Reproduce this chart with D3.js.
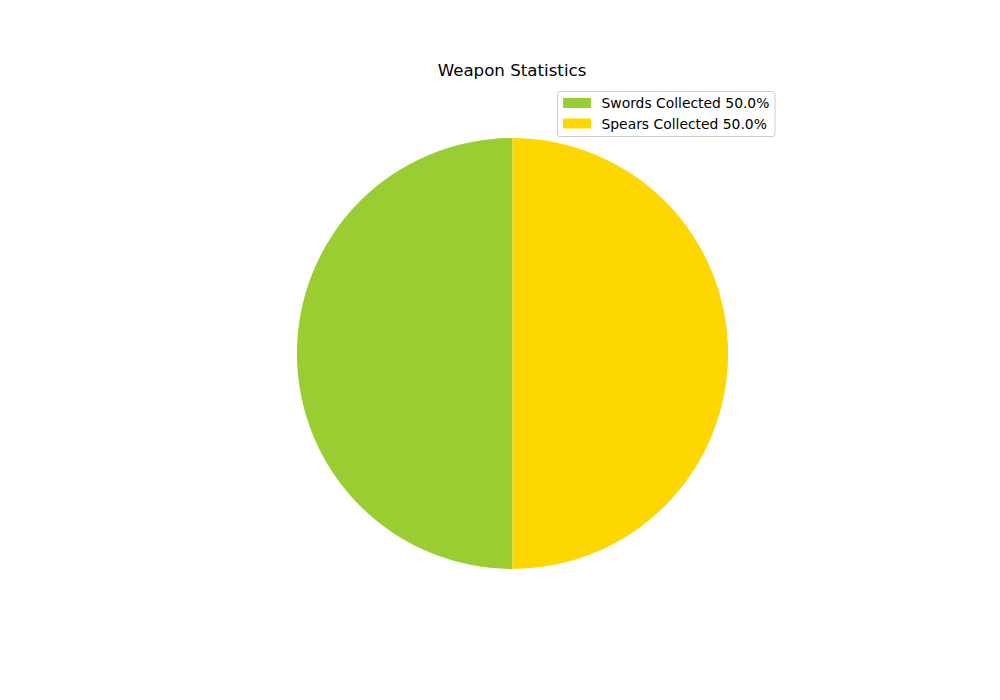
<!DOCTYPE html>
<html>
<head>
<meta charset="utf-8">
<script src="https://cdn.jsdelivr.net/npm/d3@7"></script>
<style>
  body { margin: 0; background: #fff; }
  text { font-family: "DejaVu Sans", sans-serif; }
</style>
</head>
<body>
<div id="chart"></div>
<script>
var width = 1000,
    height = 700;

// data
var labels = ["Swords Collected", "Spears Collected"];
var values = [50, 50];
var colors = ["#9acd32", "#ffd700"];

var cx = 512.5, cy = 353.5, radius = 215.5;

var svg = d3.select("#chart").append("svg")
    .attr("width", width)
    .attr("height", height);

var total = d3.sum(values);

// matplotlib style: start at top, go counterclockwise
var pie = d3.pie()
    .sort(null)
    .startAngle(0)
    .endAngle(-2 * Math.PI);

var arc = d3.arc().innerRadius(0).outerRadius(radius);

var g = svg.append("g").attr("transform", "translate(" + cx + "," + cy + ")");

g.selectAll("path")
    .data(pie(values))
    .enter().append("path")
      .attr("d", arc)
      .attr("fill", function(d, i) { return colors[i]; });

svg.append("text")
    .attr("x", 512)
    .attr("y", 76)
    .attr("text-anchor", "middle")
    .style("font-size", "16.67px")
    .text("Weapon Statistics");

// legend
var legend = svg.append("g").attr("transform", "translate(557.5,91.5)");
legend.append("rect")
    .attr("width", 217.5)
    .attr("height", 45)
    .attr("rx", 2.5)
    .attr("fill", "#fff")
    .attr("fill-opacity", 0.8)
    .attr("stroke", "#cccccc");

var item = legend.selectAll(".item")
    .data(labels)
    .enter().append("g")
      .attr("class", "item")
      .attr("transform", function(d, i) { return "translate(0," + (i * 20.5) + ")"; });

item.append("rect")
    .attr("x", 5.5)
    .attr("y", 6.5)
    .attr("width", 28)
    .attr("height", 10)
    .attr("fill", function(d, i) { return colors[i]; });

item.append("text")
    .attr("x", 44)
    .attr("y", 16.5)
    .style("font-size", "13.89px")
    .text(function(d, i) { return d + " " + (values[i] / total * 100).toFixed(1) + "%"; });
</script>
</body>
</html>
